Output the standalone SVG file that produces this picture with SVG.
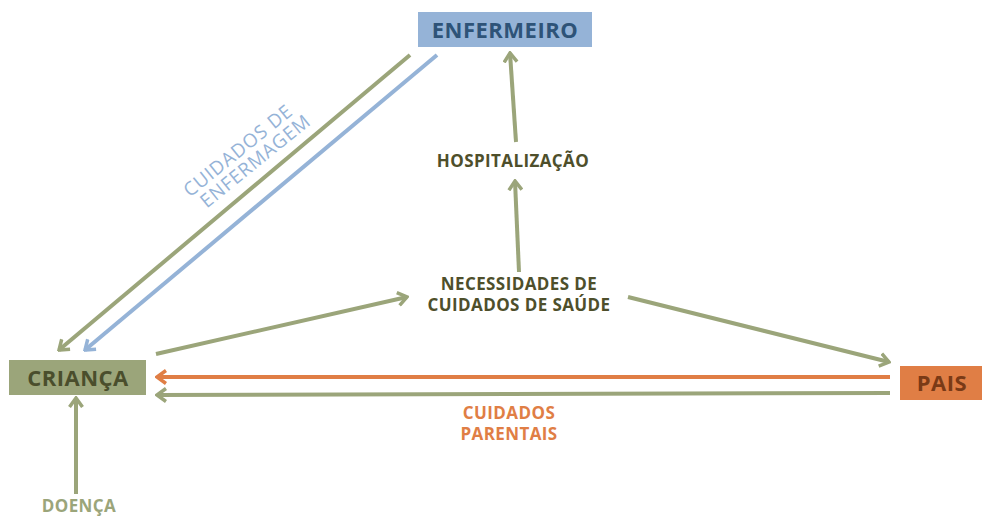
<svg xmlns="http://www.w3.org/2000/svg" width="984" height="518" viewBox="0 0 984 518">
<style>
text{font-family:"Open Sans","Liberation Sans",sans-serif;font-weight:bold;text-anchor:middle}
.ln{fill:none;stroke-width:4;stroke-linecap:butt}
.g{stroke:#9ba57a}
.b{stroke:#95b3d7}
.o{stroke:#e07e45}
.lbl{font-size:17px;fill:#4e4f2b;letter-spacing:0.4px}
.box{font-size:22px;letter-spacing:0.5px}
.rot{font-size:19px;fill:#95b3d7;font-weight:normal;letter-spacing:0.8px}
</style>
<defs>
<marker id="ag" viewBox="0 0 12 16" refX="10" refY="8" markerWidth="12" markerHeight="16" markerUnits="userSpaceOnUse" orient="auto"><path d="M1,1.5 L10,8 L1,14.5" fill="none" stroke="#9ba57a" stroke-width="3.5"/></marker>
<marker id="ab" viewBox="0 0 12 16" refX="10" refY="8" markerWidth="12" markerHeight="16" markerUnits="userSpaceOnUse" orient="auto"><path d="M1,1.5 L10,8 L1,14.5" fill="none" stroke="#95b3d7" stroke-width="3.5"/></marker>
<marker id="ao" viewBox="0 0 12 16" refX="10" refY="8" markerWidth="12" markerHeight="16" markerUnits="userSpaceOnUse" orient="auto"><path d="M1,1.5 L10,8 L1,14.5" fill="none" stroke="#e07e45" stroke-width="3.5"/></marker>
</defs>
<g id="connectors">
<line class="ln g" x1="410" y1="55" x2="59" y2="350" marker-end="url(#ag)"/>
<line class="ln b" x1="437" y1="55" x2="85" y2="350" marker-end="url(#ab)"/>
<line class="ln g" x1="516" y1="142" x2="510" y2="53" marker-end="url(#ag)"/>
<line class="ln g" x1="519" y1="272" x2="515" y2="181" marker-end="url(#ag)"/>
<line class="ln g" x1="156" y1="354" x2="407" y2="297" marker-end="url(#ag)"/>
<line class="ln g" x1="628" y1="297" x2="889" y2="362" marker-end="url(#ag)"/>
<line class="ln o" x1="890" y1="377" x2="157" y2="377" marker-end="url(#ao)"/>
<line class="ln g" x1="890" y1="393" x2="157" y2="395" marker-end="url(#ag)"/>
<line class="ln g" x1="76" y1="494" x2="76" y2="398" marker-end="url(#ag)"/>
</g>
<g id="enfermeiro">
<rect x="418" y="12" width="174" height="35" fill="#95b3d7"/>
<text class="box" x="505" y="37.5" fill="#2e5378">ENFERMEIRO</text>
</g>
<g id="crianca">
<rect x="9" y="360" width="137" height="35" fill="#9ba57a"/>
<text class="box" x="78" y="385.5" fill="#4a4e2c">CRIANÇA</text>
</g>
<g id="pais">
<rect x="900" y="366" width="82" height="34" fill="#e07e45"/>
<text class="box" x="942" y="391" fill="#7a3a16">PAIS</text>
</g>
<g id="hospitalizacao">
<text class="lbl" x="513" y="167">HOSPITALIZAÇÃO</text>
</g>
<g id="necessidades">
<text class="lbl" x="519" y="290">NECESSIDADES DE</text>
<text class="lbl" x="519" y="311">CUIDADOS DE SAÚDE</text>
</g>
<g id="doenca">
<text class="lbl" x="79" y="512" style="fill:#9ba57a">DOENÇA</text>
</g>
<g id="labels">
<text class="lbl" x="509" y="419" style="fill:#e07e45">CUIDADOS</text>
<text class="lbl" x="509" y="440" style="fill:#e07e45">PARENTAIS</text>
<g transform="translate(244,158) rotate(-39)">
<text class="rot" x="0" y="-3">CUIDADOS DE</text>
<text class="rot" x="7" y="16">ENFERMAGEM</text>
</g>
</g>
</svg>
